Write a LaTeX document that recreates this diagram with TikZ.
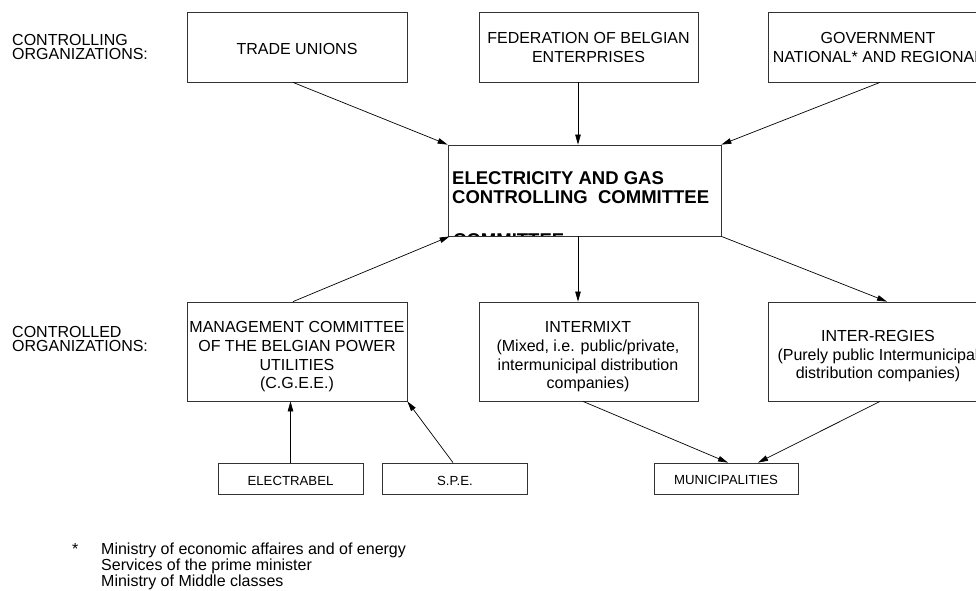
\documentclass[tikz,border=0pt]{standalone}
\usepackage{fontspec}
\setmainfont{Liberation Sans}
\usetikzlibrary{arrows.meta,calc}
\begin{document}
\begin{tikzpicture}[x=1pt,y=-1pt,
  box/.style={draw=black!80, line width=0.8pt, rectangle, inner sep=0pt},
  bigbox/.style={box, minimum width=220pt, minimum height=70pt},
  midbox/.style={box, minimum width=220pt, minimum height=99pt},
  smallbox/.style={box, minimum width=145pt, minimum height=31pt},
  boxtxt/.style={inner sep=0pt, anchor=north, align=center, font=\fontsize{16}{18.7}\selectfont},
  smalltxt/.style={inner sep=0pt, anchor=north, font=\fontsize{13.2}{16}\selectfont},
  sidetxt/.style={inner sep=0pt, anchor=north west, align=left, font=\fontsize{16}{13.8}\selectfont},
  notetxt/.style={inner sep=0pt, anchor=north west, align=left, font=\fontsize{16}{14.5}\selectfont},
  boldtxt/.style={inner sep=0pt, anchor=north west, align=left, font=\fontsize{18.5}{19}\selectfont\bfseries},
  arr/.style={line width=0.7pt, -{Triangle[length=10pt,width=5.5pt]}}]
\clip (0,0) rectangle (976,590);

% side labels
\node[sidetxt] (lab1) at (12,34.5) {CONTROLLING\\ORGANIZATIONS:};
\node[sidetxt] (lab2) at (12,326.2) {CONTROLLED\\ORGANIZATIONS:};

% top row
\node[bigbox] (tu) at (297,47) {};
\node[boxtxt] (tut) at (297,43) {TRADE UNIONS};
\node[bigbox, minimum width=219pt] (fbe) at (588.5,47) {};
\node[boxtxt] (fbet) at (588.5,32) {FEDERATION OF BELGIAN\\ENTERPRISES};
\node[bigbox] (gov) at (878,47) {};
\node[boxtxt] (govt) at (878,32) {GOVERNMENT\\NATIONAL* AND REGIONAL};

% central committee
\node[box, minimum width=273pt, minimum height=91pt] (ctrl) at (584.5,190.5) {};
\node[boldtxt] (ctrlt) at (452,171) {ELECTRICITY AND GAS\\CONTROLLING\ \ COMMITTEE};
\begin{scope}
  \clip (448,145) rectangle (721,235.5);
  \node[boldtxt] (ctrlx) at (453,233) {COMMITTEE};
\end{scope}
\draw[draw=black!80, line width=0.8pt] (ctrl.south west) -- (ctrl.south east);

% controlled row
\node[midbox] (mgmt) at (297,351.5) {};
\node[boxtxt] (mgmtt) at (297,321.5) {MANAGEMENT COMMITTEE\\OF THE BELGIAN POWER\\UTILITIES\\(C.G.E.E.)};
\node[midbox, minimum width=219pt] (im) at (588.5,351.5) {};
\node[boxtxt] (imt) at (588,321.5) {INTERMIXT\\(Mixed, i.e. public/private,\\intermunicipal distribution\\companies)};
\node[midbox] (ir) at (878,351.5) {};
\node[boxtxt] (irt) at (878,330) {INTER-REGIES\\(Purely public Intermunicipal\\distribution companies)};

% bottom row
\node[smallbox] (el) at (290.5,478.5) {};
\node[smalltxt] (elt) at (290.5,476) {ELECTRABEL};
\node[smallbox] (spe) at (454.5,478.5) {};
\node[smalltxt] (spet) at (455,476) {S.P.E.};
\node[smallbox, minimum width=144pt] (muni) at (726,478.5) {};
\node[smalltxt] (munit) at (726,475) {MUNICIPALITIES};

% footnote
\node[notetxt] (star) at (72,543) {*};
\node[notetxt] (note) at (101,543) {Ministry of economic affaires and of energy\\Services of the prime minister\\Ministry of Middle classes};

% connectors
\draw[arr] ([xshift=-4pt]tu.south) -- (ctrl.north west);
\draw[arr] ([xshift=-10.5pt]fbe.south) -- ([xshift=-10.5pt]fbe.south |- ctrl.north);
\draw[arr] ([xshift=2pt]gov.south) -- (ctrl.north east);
\draw[arr] ([xshift=-4pt]mgmt.north) -- ([xshift=2pt]ctrl.south west);
\draw[arr] ([xshift=-6.5pt]ctrl.south) -- ([xshift=-6.5pt]ctrl.south |- im.north);
\draw[arr] (ctrl.south east) -- ([xshift=9pt]ir.north);
\draw[arr] (el.north) -- (el.north |- mgmt.south);
\draw[arr] ([xshift=-1.5pt]spe.north) -- (mgmt.south east);
\draw[arr] ([xshift=-5.5pt]im.south) -- ([xshift=2pt]muni.north);
\draw[arr] ([xshift=2pt]ir.south) -- ([xshift=32pt]muni.north);
\end{tikzpicture}
\end{document}
